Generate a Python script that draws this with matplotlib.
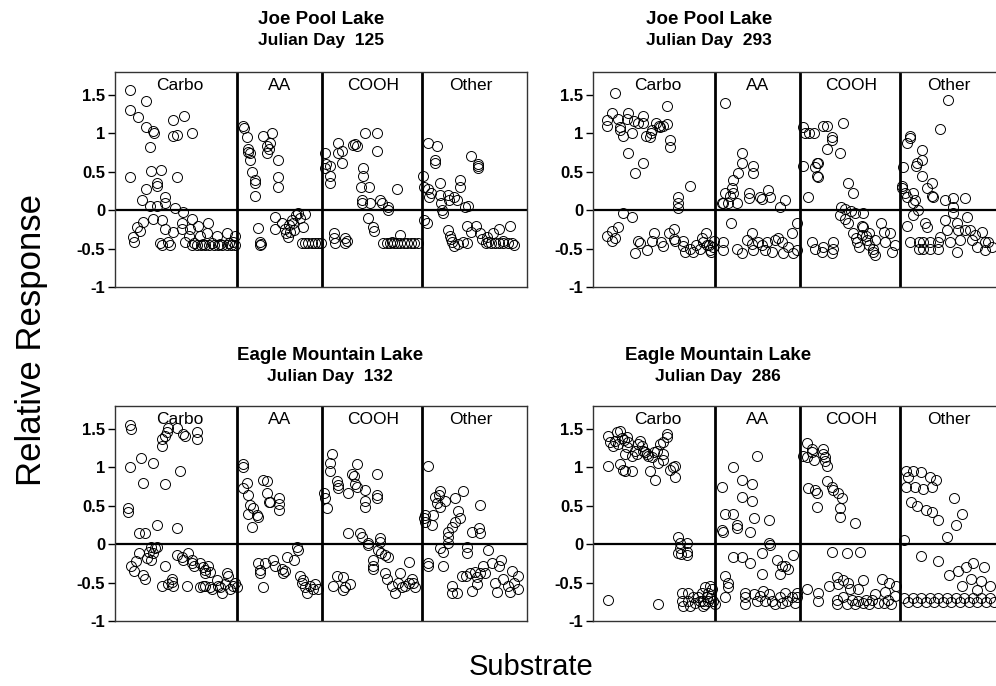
import matplotlib.pyplot as plt

plt.rcParams['font.family'] = ['Liberation Sans', 'DejaVu Sans']

# x = substrate position (Carbo | AA | COOH | Other), y = relative response
categories = ["Carbo", "AA", "COOH", "Other"]
cat_bounds = [28.5, 48.3, 71.5]
cat_label_x = [15.0, 38.3, 60.2, 82.8]

# ---- Joe Pool Lake, Julian Day 125 ----
jp125_carbo = [(3.5, 1.56), (3.5, 1.30), (5.3, 1.22), (7.2, 1.42), (7.2, 1.08), (8.9, 1.03),
               (9.2, 1.00), (8.2, 0.82), (13.5, 1.17), (16.1, 1.23), (13.5, 0.97), (14.5, 0.98),
               (17.9, 1.00), (3.5, 0.43), (8.5, 0.51), (10.7, 0.52), (14.5, 0.43), (7.2, 0.28),
               (9.7, 0.35), (9.9, 0.32), (6.3, 0.13), (11.7, 0.17), (11.7, 0.10), (8.2, 0.06),
               (9.7, 0.06), (14.0, 0.03), (15.9, -0.02), (8.9, -0.12), (6.5, -0.15), (5.2, -0.22),
               (5.9, -0.27), (4.3, -0.35), (4.5, -0.42), (10.5, -0.43), (11.0, -0.13), (15.6, -0.16),
               (17.9, -0.11), (11.7, -0.24), (13.5, -0.28), (15.6, -0.24), (17.5, -0.24), (19.3, -0.20),
               (21.7, -0.16), (11.0, -0.45), (12.4, -0.42), (12.8, -0.45), (16.3, -0.42), (17.2, -0.33),
               (19.8, -0.33), (21.4, -0.30), (23.8, -0.33), (26.1, -0.30), (28.0, -0.33), (18.0, -0.45),
               (19.0, -0.45), (20.0, -0.45), (21.0, -0.45), (22.0, -0.45), (23.0, -0.45), (24.0, -0.45),
               (25.0, -0.45), (26.0, -0.45), (27.0, -0.45), (28.0, -0.45), (18.5, -0.43), (20.5, -0.44),
               (22.5, -0.43), (24.5, -0.44), (26.5, -0.43), (27.5, -0.42)]
jp125_aa = [(29.8, 1.10), (30.1, 1.07), (30.7, 0.95), (31.0, 0.80), (31.0, 0.76), (31.4, 0.74),
            (31.4, 0.65), (31.9, 0.50), (32.6, 0.39), (32.6, 0.36), (32.6, 0.18), (34.5, 0.97),
            (36.6, 1.00), (35.4, 0.84), (35.8, 0.80), (35.4, 0.74), (36.2, 0.88), (38.0, 0.65),
            (38.0, 0.43), (38.0, 0.30), (33.3, -0.23), (33.8, -0.42), (33.8, -0.45), (34.0, -0.44),
            (37.3, -0.09), (37.3, -0.24), (39.0, -0.16), (39.5, -0.24), (39.8, -0.30), (40.2, -0.35),
            (40.5, -0.19), (41.2, -0.13), (41.5, -0.16), (42.2, -0.06), (42.6, -0.03), (43.0, -0.10),
            (43.8, -0.22), (44.3, -0.05), (43.5, -0.43), (44.2, -0.43), (45.0, -0.43), (45.8, -0.43),
            (46.5, -0.43), (47.2, -0.43), (48.0, -0.43), (40.8, -0.28), (41.6, -0.26)]
jp125_cooh = [(49.0, 0.74), (49.2, 0.60), (49.0, 0.55), (50.1, 0.58), (50.1, 0.45), (50.1, 0.35),
              (52.0, 0.88), (52.0, 0.75), (53.0, 0.77), (53.0, 0.61), (55.5, 0.85), (56.0, 0.86),
              (56.5, 0.83), (58.3, 1.01), (61.0, 1.00), (61.0, 0.77), (57.8, 0.55), (57.8, 0.44),
              (57.3, 0.30), (59.2, 0.30), (57.6, 0.13), (57.6, 0.10), (59.4, 0.10), (61.8, 0.13),
              (62.2, 0.10), (63.6, 0.04), (63.6, 0.00), (65.7, 0.27), (51.0, -0.30), (51.0, -0.36),
              (53.5, -0.36), (54.0, -0.40), (53.5, -0.43), (51.2, -0.43), (59.0, -0.10), (60.0, -0.22),
              (60.4, -0.27), (62.5, -0.43), (63.3, -0.43), (64.1, -0.43), (65.0, -0.43), (65.8, -0.43),
              (66.5, -0.43), (67.3, -0.43), (68.1, -0.43), (68.9, -0.43), (69.7, -0.43), (70.5, -0.43),
              (66.4, -0.32), (64.5, -0.41)]
jp125_other = [(73.0, 0.87), (75.0, 0.84), (74.6, 0.65), (74.6, 0.61), (83.0, 0.71), (84.6, 0.60),
               (84.6, 0.57), (84.6, 0.55), (71.8, 0.45), (72.0, 0.30), (73.0, 0.28), (73.6, 0.22),
               (73.2, 0.17), (75.8, 0.35), (75.8, 0.20), (77.6, 0.20), (77.8, 0.13), (76.0, 0.10),
               (76.2, 0.00), (76.5, -0.03), (80.4, 0.39), (80.4, 0.30), (79.7, 0.13), (81.5, 0.04),
               (82.3, 0.06), (79.0, 0.17), (72.0, -0.13), (72.6, -0.16), (77.6, -0.26), (78.0, -0.33),
               (78.3, -0.38), (78.6, -0.42), (79.0, -0.47), (81.0, -0.42), (82.0, -0.20), (84.0, -0.20),
               (83.0, -0.28), (85.0, -0.30), (85.4, -0.38), (86.6, -0.35), (87.0, -0.42), (88.0, -0.30),
               (89.5, -0.25), (90.5, -0.40), (92.0, -0.20), (86.5, -0.43), (87.5, -0.43), (88.5, -0.43),
               (89.5, -0.43), (90.5, -0.43), (91.5, -0.43), (92.5, -0.43), (93.0, -0.45), (80.0, -0.44),
               (82.0, -0.43)]

# ---- Joe Pool Lake, Julian Day 293 ----
jp293_carbo = [(5.1, 1.53), (3.3, 1.17), (3.3, 1.10), (4.4, 1.26), (5.8, 1.19), (6.3, 1.08),
               (6.3, 1.05), (7.0, 0.97), (9.1, 1.00), (8.2, 1.27), (7.9, 1.19), (9.6, 1.16),
               (10.5, 1.14), (11.7, 1.23), (11.7, 1.13), (12.4, 0.97), (13.2, 0.95), (13.5, 1.00),
               (13.8, 1.04), (14.7, 1.13), (15.3, 1.10), (15.6, 1.08), (16.4, 1.10), (17.2, 1.12),
               (17.2, 1.36), (18.0, 0.91), (18.0, 0.82), (8.2, 0.75), (9.8, 0.48), (11.7, 0.61),
               (22.6, 0.32), (19.8, 0.17), (19.8, 0.09), (19.8, 0.03), (7.0, -0.04), (9.0, -0.09),
               (3.3, -0.33), (4.5, -0.27), (4.5, -0.40), (5.8, -0.22), (5.2, -0.36), (9.8, -0.56),
               (10.5, -0.40), (10.9, -0.43), (12.5, -0.52), (13.8, -0.40), (14.1, -0.30), (15.9, -0.42),
               (16.2, -0.47), (17.6, -0.30), (18.8, -0.24), (18.8, -0.38), (19.2, -0.40), (21.0, -0.40),
               (21.0, -0.47), (21.4, -0.55), (22.6, -0.50), (23.3, -0.55), (23.9, -0.45), (25.0, -0.50),
               (25.6, -0.42), (26.4, -0.30), (27.0, -0.45), (27.5, -0.55), (28.0, -0.48), (25.4, -0.36),
               (26.5, -0.45), (27.2, -0.52), (28.2, -0.40)]
jp293_aa = [(30.8, 1.39), (34.7, 0.74), (34.7, 0.62), (37.3, 0.58), (37.3, 0.48), (33.8, 0.49),
            (32.6, 0.39), (32.4, 0.29), (32.6, 0.23), (31.9, 0.19), (30.8, 0.22), (30.2, 0.10),
            (30.0, 0.09), (31.5, 0.09), (33.6, 0.10), (36.3, 0.22), (36.3, 0.16), (39.0, 0.17),
            (39.4, 0.15), (40.8, 0.26), (41.3, 0.17), (44.7, 0.13), (43.6, 0.04), (32.1, -0.16),
            (30.2, -0.42), (30.2, -0.52), (33.6, -0.50), (34.7, -0.56), (35.9, -0.39), (37.0, -0.30),
            (37.0, -0.44), (37.3, -0.52), (38.5, -0.42), (39.4, -0.45), (40.0, -0.52), (40.5, -0.42),
            (41.7, -0.55), (42.4, -0.39), (43.1, -0.36), (44.0, -0.42), (44.3, -0.56), (45.5, -0.48),
            (46.4, -0.30), (46.6, -0.56), (47.5, -0.16), (47.5, -0.52)]
jp293_cooh = [(49.0, 1.08), (49.5, 1.01), (50.3, 1.01), (51.5, 1.01), (53.6, 1.10), (54.5, 1.10),
              (55.7, 0.95), (55.7, 0.91), (54.5, 0.80), (58.3, 1.13), (57.6, 0.74), (49.0, 0.58),
              (52.2, 0.62), (52.4, 0.61), (51.7, 0.56), (52.2, 0.45), (52.4, 0.43), (50.0, 0.17),
              (59.4, 0.35), (60.6, 0.23), (57.8, 0.04), (58.8, 0.01), (60.0, -0.01), (61.0, -0.03),
              (62.9, -0.04), (57.6, -0.06), (58.8, -0.12), (59.4, -0.16), (51.0, -0.42), (51.7, -0.50),
              (53.4, -0.54), (53.6, -0.48), (56.0, -0.42), (56.0, -0.50), (55.8, -0.56), (60.6, -0.30),
              (61.3, -0.36), (61.6, -0.42), (62.0, -0.48), (62.9, -0.22), (63.5, -0.33), (63.9, -0.39),
              (64.3, -0.45), (65.3, -0.55), (65.7, -0.58), (62.7, -0.20), (62.7, -0.32), (64.3, -0.30),
              (65.7, -0.39), (65.3, -0.50), (67.1, -0.16), (67.8, -0.28), (68.1, -0.42), (69.2, -0.30),
              (69.7, -0.55), (70.3, -0.45)]
jp293_other = [(82.7, 1.44), (80.9, 1.06), (73.9, 0.97), (73.9, 0.94), (73.2, 0.87), (76.7, 0.78),
               (76.7, 0.65), (75.5, 0.61), (75.2, 0.58), (76.7, 0.45), (72.3, 0.56), (72.0, 0.32),
               (72.0, 0.29), (72.6, 0.22), (73.2, 0.17), (74.6, 0.22), (75.0, 0.13), (74.6, 0.09),
               (77.9, 0.29), (79.0, 0.36), (79.0, 0.19), (79.3, 0.17), (82.0, 0.13), (83.9, 0.16),
               (83.9, 0.04), (86.7, 0.16), (75.8, 0.00), (74.6, -0.06), (73.2, -0.20), (73.9, -0.42),
               (77.4, -0.16), (77.9, -0.22), (78.6, -0.42), (78.6, -0.50), (80.4, -0.42), (80.4, -0.50),
               (80.9, -0.35), (82.0, -0.13), (82.5, -0.26), (83.2, -0.42), (83.9, -0.04), (84.8, -0.17),
               (85.1, -0.26), (85.5, -0.39), (84.8, -0.55), (86.7, -0.26), (87.2, -0.09), (87.9, -0.26),
               (88.3, -0.39), (89.0, -0.32), (89.5, -0.48), (90.7, -0.28), (91.4, -0.42), (91.4, -0.52),
               (92.1, -0.42), (93.0, -0.48), (76.0, -0.42), (76.0, -0.50), (77.0, -0.42), (77.0, -0.50)]

# ---- Eagle Mountain Lake, Julian Day 132 ----
em132_carbo = [(3.5, 1.55), (3.8, 1.50), (3.5, 1.00), (3.0, 0.47), (3.0, 0.42), (6.0, 1.12),
               (6.5, 0.80), (5.5, 0.15), (7.0, 0.15), (12.4, 1.52), (14.4, 1.52), (12.0, 1.46),
               (11.7, 1.41), (10.9, 1.37), (10.9, 1.28), (15.9, 1.43), (16.3, 1.41), (19.0, 1.46),
               (19.0, 1.37), (8.9, 1.06), (15.2, 0.95), (11.7, 0.78), (9.7, 0.25), (14.4, 0.21),
               (3.8, -0.28), (4.8, -0.22), (5.6, -0.12), (6.5, -0.40), (6.9, -0.45), (7.5, -0.18),
               (7.9, -0.10), (4.5, -0.35), (8.5, -0.04), (9.3, -0.05), (9.7, -0.04), (8.9, -0.12),
               (8.5, -0.21), (11.7, -0.28), (14.4, -0.14), (15.5, -0.17), (15.9, -0.21), (17.1, -0.12),
               (17.9, -0.21), (17.9, -0.25), (18.3, -0.28), (19.8, -0.25), (20.6, -0.30), (21.0, -0.34),
               (21.0, -0.38), (21.7, -0.29), (22.1, -0.36), (10.9, -0.54), (12.4, -0.52), (13.2, -0.45),
               (13.2, -0.49), (13.6, -0.54), (16.7, -0.54), (19.8, -0.56), (20.6, -0.54), (21.0, -0.54),
               (22.1, -0.56), (22.5, -0.58), (23.7, -0.47), (24.1, -0.54), (24.5, -0.56), (24.9, -0.63),
               (25.6, -0.52), (26.0, -0.38), (26.4, -0.41), (26.8, -0.58), (27.6, -0.54), (28.0, -0.50),
               (28.4, -0.56)]
em132_aa = [(29.9, 1.04), (29.9, 1.00), (30.7, 0.80), (29.9, 0.73), (31.1, 0.64), (34.6, 0.84),
            (35.4, 0.82), (35.4, 0.67), (35.8, 0.55), (36.1, 0.55), (38.1, 0.60), (38.1, 0.53),
            (38.1, 0.45), (31.5, 0.51), (31.1, 0.40), (32.2, 0.47), (33.0, 0.38), (33.4, 0.36),
            (31.9, 0.22), (33.4, -0.25), (33.8, -0.34), (33.8, -0.38), (34.6, -0.56), (35.0, -0.25),
            (36.9, -0.21), (37.3, -0.28), (38.9, -0.32), (39.2, -0.37), (39.6, -0.35), (40.0, -0.17),
            (41.6, -0.21), (42.4, -0.04), (42.7, -0.08), (43.1, -0.41), (43.5, -0.50), (43.8, -0.47),
            (44.3, -0.56), (44.7, -0.63), (45.5, -0.54), (46.1, -0.58), (46.7, -0.52), (47.3, -0.58)]
em132_cooh = [(50.5, 1.17), (50.1, 1.06), (50.1, 0.95), (48.6, 0.67), (49.0, 0.60), (49.3, 0.47),
              (51.7, 0.82), (52.0, 0.77), (52.0, 0.73), (54.4, 0.67), (55.2, 0.91), (55.6, 0.89),
              (56.3, 1.04), (55.9, 0.78), (56.3, 0.75), (58.3, 0.71), (61.0, 0.91), (61.0, 0.64),
              (61.0, 0.60), (58.3, 0.56), (58.3, 0.49), (54.4, 0.14), (57.1, 0.14), (57.5, 0.10),
              (59.0, 0.01), (59.0, -0.01), (61.8, 0.08), (61.8, 0.03), (61.3, -0.08), (62.0, -0.12),
              (63.0, -0.14), (63.6, -0.17), (60.2, -0.21), (60.2, -0.28), (60.2, -0.32), (62.9, -0.38),
              (63.3, -0.45), (68.4, -0.23), (51.7, -0.41), (53.2, -0.43), (50.8, -0.54), (53.6, -0.56),
              (54.8, -0.52), (53.2, -0.60), (64.5, -0.54), (65.3, -0.63), (66.0, -0.50), (66.4, -0.38),
              (66.8, -0.56), (67.6, -0.54), (68.4, -0.50), (69.1, -0.45), (69.5, -0.50), (69.9, -0.56)]
em132_other = [(73.0, 1.02), (71.9, 0.34), (72.3, 0.38), (72.3, 0.29), (73.8, 0.25), (74.2, 0.38),
               (74.6, 0.62), (75.0, 0.54), (75.4, 0.64), (75.8, 0.69), (75.8, 0.49), (76.9, 0.56),
               (79.3, 0.60), (81.2, 0.69), (85.1, 0.51), (80.0, 0.43), (80.4, 0.34), (79.3, 0.29),
               (78.5, 0.22), (77.7, 0.16), (77.7, 0.10), (77.7, 0.01), (83.1, 0.16), (84.7, 0.21),
               (85.1, 0.14), (75.8, -0.05), (76.5, -0.10), (73.0, -0.25), (73.0, -0.28), (76.5, -0.28),
               (82.0, -0.04), (82.0, -0.12), (80.8, -0.41), (81.9, -0.41), (82.7, -0.38), (83.9, -0.36),
               (84.3, -0.43), (85.1, -0.38), (86.2, -0.38), (87.0, -0.08), (85.8, -0.28), (87.9, -0.25),
               (78.5, -0.54), (78.5, -0.64), (79.7, -0.64), (83.1, -0.61), (84.3, -0.52), (88.5, -0.50),
               (89.5, -0.28), (90.5, -0.45), (91.5, -0.55), (92.0, -0.62), (93.0, -0.50), (94.0, -0.58),
               (92.5, -0.35), (94.0, -0.42), (89.0, -0.62), (90.0, -0.20)]

# ---- Eagle Mountain Lake, Julian Day 286 ----
em286_carbo = [(3.6, 1.41), (4.0, 1.33), (4.7, 1.28), (5.5, 1.46), (6.3, 1.48), (5.1, 1.35),
               (5.8, 1.30), (6.7, 1.38), (7.2, 1.36), (7.9, 1.40), (8.2, 1.33), (7.5, 1.17),
               (7.9, 1.26), (3.6, 1.02), (6.3, 1.04), (7.0, 0.97), (7.5, 0.95), (9.0, 0.95),
               (9.0, 1.15), (9.8, 1.22), (10.6, 1.30), (11.0, 1.35), (11.4, 1.28), (11.7, 1.22),
               (12.1, 1.20), (12.5, 1.17), (13.3, 0.95), (14.5, 0.84), (13.7, 1.13), (14.1, 1.20),
               (14.9, 1.21), (15.2, 1.06), (15.6, 1.30), (16.4, 1.33), (17.2, 1.40), (17.2, 1.43),
               (16.4, 1.17), (16.4, 1.10), (18.0, 0.97), (18.7, 1.00), (19.1, 1.02), (19.1, 0.88),
               (10.2, 1.18), (12.9, 1.15), (19.9, 0.10), (20.3, 0.01), (20.3, -0.05), (21.8, 0.01),
               (21.8, -0.10), (22.0, -0.14), (20.5, -0.13), (19.9, -0.12), (3.6, -0.72), (15.2, -0.78),
               (20.7, -0.63), (20.7, -0.74), (21.0, -0.80), (22.1, -0.63), (22.1, -0.74), (22.6, -0.80),
               (23.4, -0.69), (23.8, -0.76), (24.5, -0.69), (25.0, -0.74), (25.6, -0.80), (26.1, -0.56),
               (26.5, -0.69), (26.8, -0.74), (25.3, -0.63), (26.9, -0.63), (27.3, -0.54), (27.7, -0.58),
               (25.7, -0.74), (26.1, -0.78), (28.0, -0.74), (28.4, -0.78), (27.2, -0.70)]
em286_aa = [(38.2, 1.15), (32.7, 1.00), (34.7, 0.84), (37.0, 0.78), (30.0, 0.75), (34.7, 0.62),
            (37.0, 0.56), (30.8, 0.40), (32.7, 0.40), (30.0, 0.18), (30.4, 0.16), (33.5, 0.25),
            (33.5, 0.21), (36.6, 0.16), (37.4, 0.34), (40.9, 0.32), (40.9, 0.01), (41.3, -0.01),
            (32.7, -0.17), (34.7, -0.17), (36.6, -0.25), (39.3, -0.12), (39.3, -0.39), (42.8, -0.21),
            (44.0, -0.28), (44.8, -0.28), (45.5, -0.32), (43.6, -0.39), (46.7, -0.14), (30.8, -0.41),
            (31.5, -0.50), (31.5, -0.56), (30.8, -0.69), (35.4, -0.63), (35.4, -0.69), (35.4, -0.78),
            (37.4, -0.65), (38.2, -0.74), (38.9, -0.67), (39.7, -0.61), (40.1, -0.74), (40.9, -0.65),
            (41.7, -0.74), (42.4, -0.78), (43.6, -0.69), (44.0, -0.76), (44.8, -0.63), (45.2, -0.74),
            (46.3, -0.69), (47.1, -0.76), (47.5, -0.63), (47.5, -0.69)]
em286_cooh = [(49.8, 1.32), (49.0, 1.15), (51.0, 1.24), (51.0, 1.20), (51.4, 1.10), (49.8, 1.13),
              (53.7, 1.24), (53.7, 1.18), (54.1, 1.13), (54.1, 1.08), (54.5, 1.02), (50.2, 0.73),
              (51.7, 0.71), (52.1, 0.67), (52.1, 0.49), (54.5, 0.82), (55.6, 0.75), (56.0, 0.71),
              (57.2, 0.67), (58.0, 0.60), (57.6, 0.47), (57.6, 0.36), (61.1, 0.27), (55.6, -0.10),
              (59.1, -0.12), (62.2, -0.10), (49.8, -0.58), (52.5, -0.63), (52.5, -0.74), (54.9, -0.54),
              (56.8, -0.43), (57.2, -0.52), (58.3, -0.47), (59.5, -0.50), (59.9, -0.58), (63.0, -0.47),
              (61.8, -0.58), (56.8, -0.72), (56.8, -0.78), (58.3, -0.69), (59.1, -0.78), (60.3, -0.72),
              (61.1, -0.78), (61.8, -0.74), (62.9, -0.76), (63.6, -0.72), (64.3, -0.78), (65.0, -0.72),
              (65.7, -0.65), (66.5, -0.76), (67.3, -0.45), (68.0, -0.62), (68.8, -0.72), (69.5, -0.78),
              (70.3, -0.68), (67.8, -0.76), (70.5, -0.55), (69.0, -0.50)]
em286_other = [(73.0, 0.95), (73.5, 0.88), (74.5, 0.95), (76.5, 0.94), (78.5, 0.88), (80.0, 0.84),
               (79.0, 0.75), (77.0, 0.72), (75.0, 0.75), (73.0, 0.75), (74.0, 0.55), (75.5, 0.50),
               (77.5, 0.45), (79.0, 0.42), (80.5, 0.32), (82.5, 0.10), (84.5, 0.25), (86.0, 0.40),
               (84.0, 0.60), (72.5, 0.05), (76.5, -0.15), (80.5, -0.22), (83.0, -0.40), (85.0, -0.35),
               (87.0, -0.30), (88.5, -0.25), (86.0, -0.55), (88.0, -0.45), (89.5, -0.60), (90.5, -0.48),
               (72.5, -0.70), (73.5, -0.75), (74.5, -0.70), (75.5, -0.75), (76.5, -0.70), (77.5, -0.75),
               (78.5, -0.70), (79.5, -0.75), (80.5, -0.70), (81.5, -0.75), (82.5, -0.70), (83.5, -0.75),
               (84.5, -0.70), (85.5, -0.75), (86.5, -0.70), (87.5, -0.75), (88.5, -0.70), (89.5, -0.75),
               (90.5, -0.70), (91.5, -0.75), (92.5, -0.70), (93.5, -0.75), (91.0, -0.30), (92.5, -0.55)]

panels = [
    ("Joe Pool Lake", "Julian Day  125", (115, 72), (321, 20, 41),
     [jp125_carbo, jp125_aa, jp125_cooh, jp125_other]),
    ("Joe Pool Lake", "Julian Day  293", (593, 72), (709, 20, 41),
     [jp293_carbo, jp293_aa, jp293_cooh, jp293_other]),
    ("Eagle Mountain Lake", "Julian Day  132", (115, 406), (330, 355, 377),
     [em132_carbo, em132_aa, em132_cooh, em132_other]),
    ("Eagle Mountain Lake", "Julian Day  286", (593, 406), (718, 355, 377),
     [em286_carbo, em286_aa, em286_cooh, em286_other]),
]

W, H = 996, 686
fig = plt.figure(figsize=(W / 100, H / 100), dpi=100)

for title, sub, (lx, ty), (tx, t1, t2), groups in panels:
    ax = fig.add_axes([lx / W, 1 - (ty + 215) / H, 412 / W, 215 / H])
    for pts in groups:
        xs, ys = zip(*pts)
        ax.plot(xs, ys, ls="none", marker="o", ms=7.2, mfc="none",
                mec="black", mew=0.7)
    ax.set_xlim(0, 96)
    ax.set_ylim(-1, 1.8)
    ax.axhline(0, color="black", lw=1.6)
    for b in cat_bounds:
        ax.axvline(b, color="black", lw=2)
    for name, cx in zip(categories, cat_label_x):
        ax.text(cx, 1.62, name, ha="center", va="center", fontsize=12.5)
    ax.set_xticks([])
    ax.set_yticks([-1, -0.5, 0, 0.5, 1, 1.5])
    ax.set_yticklabels(["-1", "-0.5", "0", "0.5", "1", "1.5"],
                       fontweight="bold", fontsize=12)
    ax.tick_params(axis="y", direction="out", length=5, width=1, pad=2)
    for sp in ax.spines.values():
        sp.set_linewidth(1)
        sp.set_color("#333333")
    fig.text(tx / W, 1 - t1 / H, title, ha="center", va="center",
             fontsize=13.5, fontweight="bold")
    fig.text(tx / W, 1 - t2 / H, sub, ha="center", va="center",
             fontsize=12.5, fontweight="bold")

fig.text(32 / W, 1 - 340 / H, "Relative Response", rotation=90,
         ha="center", va="center", fontsize=25)
fig.text(531 / W, 1 - 667 / H, "Substrate", ha="center", va="center",
         fontsize=21)

fig.savefig("out.png", dpi=100)
